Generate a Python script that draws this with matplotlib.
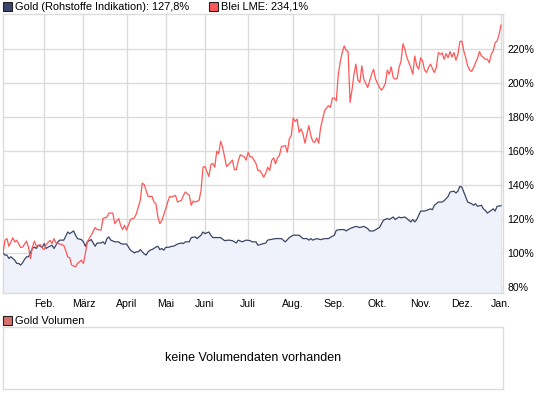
import numpy as np
import pandas as pd
import matplotlib
matplotlib.use("Agg")
import matplotlib.pyplot as plt
from matplotlib.patches import Rectangle

# ── PALETTE ────────────────────────────────────────────────
GOLD_LINE = "#3b4565"
GOLD_FILL = "#eff2fb"
BLEI_LINE = "#ff5757"
VOL_BOX   = "#d9706b"
GRID      = "#dcdcdc"

plt.rcParams["font.family"] = ["Liberation Sans", "DejaVu Sans"]

# ── DATA (percent of start value, per trading session) ─────
HOLIDAYS = ["2009-04-10", "2009-04-13", "2009-05-01",
            "2009-12-24", "2009-12-25", "2009-12-31"]
MONTH_LABELS = ["Feb.", "März", "April", "Mai", "Juni", "Juli",
                "Aug.", "Sep.", "Okt.", "Nov.", "Dez.", "Jan."]
Y_TICKS = [80, 100, 120, 140, 160, 180, 200, 220]

GOLD_DAY = [0, 1, 2, 3, 4, 6, 7, 8, 9, 10, 11, 12, 13, 15, 16, 17, 18, 20, 21,
            22, 23, 25, 26, 28, 29, 31, 32, 33, 34, 36, 37, 38, 40, 41, 42, 43,
            45, 46, 47, 48, 50, 51, 52, 53, 54, 55, 57, 59, 60, 61, 63, 64, 65,
            67, 68, 69, 70, 72, 73, 74, 75, 76, 78, 79, 80, 81, 82, 83, 85, 86,
            87, 89, 91, 92, 93, 95, 96, 98, 99, 101, 102, 103, 105, 106, 107,
            109, 111, 113, 115, 117, 119, 120, 122, 124, 126, 127, 129, 130,
            132, 134, 135, 139, 142, 144, 146, 148, 151, 153, 155, 156, 157,
            158, 160, 162, 164, 166, 168, 169, 170, 172, 174, 175, 177, 179,
            180, 182, 184, 186, 187, 189, 191, 192, 194, 196, 197, 199, 200,
            202, 203, 205, 207, 208, 209, 210, 211, 212, 213, 215, 217, 218,
            219, 220, 222, 224, 225, 227, 228, 230, 231, 232, 233, 234, 235,
            236, 237, 239, 240, 241, 242, 244, 245, 246, 247, 249, 250, 251,
            252, 254]
GOLD_PCT = [100.0, 98.8, 98.8, 96.8, 97.8, 95.8, 93.9, 93.9, 92.9, 94.3, 96.3,
            97.8, 97.8, 102.7, 103.5, 102.7, 104.6, 103.3, 105.6, 102.7, 103.5,
            104.6, 102.7, 106.6, 107.6, 107.6, 109.9, 112.4, 111.4, 113.0,
            110.5, 108.5, 107.9, 106.6, 104.0, 106.6, 107.9, 105.9, 104.0,
            105.9, 105.9, 106.6, 105.3, 108.5, 109.5, 107.6, 106.6, 106.6,
            105.6, 105.3, 105.3, 103.5, 101.7, 100.1, 100.7, 100.7, 102.0,
            99.5, 98.8, 100.7, 101.7, 102.0, 103.5, 104.0, 102.0, 102.7, 101.7,
            103.3, 103.5, 104.0, 104.0, 105.3, 105.9, 105.6, 106.6, 106.6,
            109.1, 109.5, 108.5, 110.5, 112.4, 111.4, 112.4, 110.5, 109.1,
            109.1, 109.1, 107.3, 107.6, 107.3, 105.9, 107.6, 106.6, 107.6,
            107.3, 106.6, 106.6, 104.6, 105.3, 105.9, 107.6, 108.5, 108.5,
            106.6, 109.1, 110.5, 110.5, 108.5, 108.5, 107.6, 108.5, 107.6,
            108.5, 107.9, 108.5, 108.5, 109.9, 110.5, 113.4, 113.8, 113.8,
            113.0, 114.4, 115.3, 115.7, 115.0, 115.7, 114.4, 113.0, 113.0,
            114.4, 115.0, 119.3, 120.3, 119.7, 121.2, 119.7, 121.2, 120.7,
            121.2, 119.3, 118.3, 119.7, 118.3, 119.7, 122.2, 124.7, 124.7,
            125.5, 126.0, 125.5, 128.1, 130.0, 130.0, 130.8, 133.3, 135.9,
            136.4, 135.3, 136.4, 139.2, 138.8, 135.9, 132.9, 130.0, 129.0,
            128.1, 129.0, 127.5, 128.1, 126.0, 125.1, 123.5, 125.1, 126.0,
            124.7, 127.5, 127.8]

BLEI_DAY = [0, 1, 2, 3, 5, 6, 7, 9, 10, 12, 13, 14, 15, 16, 17, 19, 20, 21, 22,
            24, 25, 26, 27, 29, 31, 32, 33, 34, 35, 37, 38, 40, 41, 42, 43, 45,
            47, 48, 50, 51, 53, 54, 56, 57, 59, 60, 61, 62, 63, 65, 67, 68, 70,
            71, 72, 74, 76, 77, 78, 79, 80, 81, 83, 84, 85, 86, 88, 89, 91, 92,
            93, 95, 96, 97, 98, 100, 101, 102, 103, 105, 106, 107, 108, 109,
            110, 111, 112, 113, 114, 115, 117, 118, 119, 120, 121, 123, 124,
            125, 126, 127, 129, 130, 131, 133, 134, 135, 136, 137, 138, 139,
            140, 141, 142, 144, 145, 146, 147, 148, 149, 150, 151, 152, 153,
            154, 155, 156, 157, 158, 159, 160, 161, 162, 164, 165, 166, 167,
            168, 169, 170, 171, 172, 173, 174, 175, 176, 177, 178, 179, 180,
            181, 182, 183, 184, 186, 187, 188, 189, 190, 192, 193, 194, 195,
            196, 197, 198, 199, 200, 201, 202, 203, 204, 205, 206, 208, 209,
            210, 211, 212, 213, 214, 215, 216, 217, 218, 220, 221, 222, 223,
            224, 225, 226, 227, 228, 229, 230, 231, 232, 233, 234, 235, 236,
            237, 238, 239, 240, 241, 242, 243, 244, 246, 247, 248, 249, 250,
            251, 252, 253, 254]
BLEI_PCT = [100.0, 107.5, 108.5, 104.0, 109.0, 106.5, 107.5, 103.3, 103.5,
            107.0, 103.5, 96.8, 103.5, 107.0, 104.0, 105.0, 103.0, 102.0,
            105.0, 107.5, 105.5, 108.5, 106.0, 105.3, 104.5, 101.5, 97.7, 97.3,
            92.9, 91.9, 93.9, 95.8, 93.9, 99.8, 106.6, 110.5, 115.0, 113.8,
            113.5, 120.3, 121.2, 123.5, 123.5, 117.3, 120.3, 116.3, 113.8,
            116.3, 113.5, 119.7, 120.7, 123.0, 131.0, 141.1, 140.3, 133.3,
            133.3, 130.0, 129.0, 121.2, 117.3, 119.2, 126.1, 130.0, 133.3,
            132.9, 133.9, 130.0, 131.0, 133.9, 135.9, 133.9, 128.1, 130.6,
            130.0, 131.0, 136.8, 150.5, 150.9, 145.0, 152.0, 152.7, 150.5,
            159.9, 158.4, 165.7, 162.3, 156.6, 150.9, 152.0, 154.7, 149.0,
            149.0, 154.3, 157.8, 156.6, 154.7, 159.3, 156.6, 156.6, 152.7,
            148.6, 148.6, 144.6, 147.0, 150.5, 148.6, 154.4, 156.0, 152.5,
            156.0, 157.4, 162.6, 163.2, 159.3, 167.1, 169.0, 179.4, 177.4,
            178.8, 171.0, 173.0, 170.0, 164.6, 170.0, 174.9, 169.0, 165.7,
            165.1, 167.7, 164.6, 173.9, 183.7, 185.3, 186.6, 185.7, 191.2,
            191.2, 189.6, 205.0, 212.6, 217.9, 221.8, 219.3, 218.5, 188.6,
            196.0, 205.2, 211.1, 201.7, 200.3, 210.1, 202.3, 197.4, 201.3,
            205.2, 208.1, 202.3, 197.4, 195.8, 197.4, 199.7, 207.6, 205.2,
            209.5, 203.2, 202.3, 202.7, 209.1, 213.0, 223.1, 219.8, 214.9,
            209.1, 205.2, 215.9, 210.1, 208.1, 214.9, 213.0, 207.6, 206.2,
            209.1, 211.1, 206.2, 209.1, 217.9, 216.9, 217.7, 214.0, 217.3,
            214.9, 218.5, 215.3, 217.9, 213.4, 216.9, 224.3, 224.7, 218.9,
            214.9, 210.1, 207.6, 206.8, 209.1, 212.0, 214.5, 218.5, 216.0,
            214.0, 214.0, 212.0, 216.9, 218.9, 223.7, 224.7, 228.6, 234.1]

# trading calendar -> first session of each month gets a grid line
sessions = pd.bdate_range("2009-01-02", "2010-01-04")
sessions = sessions[~sessions.isin(pd.to_datetime(HOLIDAYS))]
month_start = np.flatnonzero(sessions.month[1:] != sessions.month[:-1]) + 1

W, H = 545, 395
fig = plt.figure(figsize=(W / 100, H / 100), dpi=100)
fig.patch.set_facecolor("white")


def fx(px):
    return px / W


def fy(py):
    return 1 - py / H


# ── MAIN PRICE PANEL ───────────────────────────────────────
ax = fig.add_axes([fx(3), fy(293), fx(500), 279 / H])
y_lo, y_hi = 76.5, 240.6
ax.fill_between(GOLD_DAY, GOLD_PCT, y_lo, color=GOLD_FILL, lw=0, zorder=1)
ax.plot(GOLD_DAY, GOLD_PCT, color=GOLD_LINE, lw=0.9, zorder=3)
ax.plot(BLEI_DAY, BLEI_PCT, color=BLEI_LINE, lw=0.9, zorder=3)

ax.set_xlim(0, len(sessions) - 1)
ax.set_ylim(y_lo, y_hi)
ax.set_xticks(month_start)
ax.set_xticklabels(MONTH_LABELS)
ax.set_yticks(Y_TICKS)
ax.set_yticklabels([f"{v}%" for v in Y_TICKS])
ax.yaxis.tick_right()
ax.tick_params(axis="both", length=0, labelsize=7.6, colors="black")
ax.tick_params(axis="x", pad=4)
ax.tick_params(axis="y", pad=3)
ax.grid(True, color=GRID, lw=1.0, zorder=0)
ax.set_axisbelow(True)
for sp in ax.spines.values():
    sp.set_color(GRID)
    sp.set_linewidth(1.0)

# ── LEGEND (top) ───────────────────────────────────────────
def legend_box(x, y, color, label):
    fig.add_artist(Rectangle((fx(x), fy(y + 9)), 9 / W, 9 / H,
                             transform=fig.transFigure, facecolor=color,
                             edgecolor="#222222", lw=0.8))
    fig.text(fx(x + 12), fy(y + 4.5), label, fontsize=7.9,
             va="center", ha="left")


legend_box(3, 2, GOLD_LINE, "Gold (Rohstoffe Indikation): 127,8%")
legend_box(209, 2, BLEI_LINE, "Blei LME: 234,1%")

# ── VOLUME PANEL (empty) ───────────────────────────────────
legend_box(3, 316, VOL_BOX, "Gold Volumen")
vol = fig.add_axes([fx(3), fy(389), fx(500), 62 / H])
vol.set_xticks([])
vol.set_yticks([])
for sp in vol.spines.values():
    sp.set_color(GRID)
    sp.set_linewidth(1.0)
vol.text(0.5, 0.5, "keine Volumendaten vorhanden", transform=vol.transAxes,
         ha="center", va="center", fontsize=9)

fig.savefig("out.png", dpi=100)
